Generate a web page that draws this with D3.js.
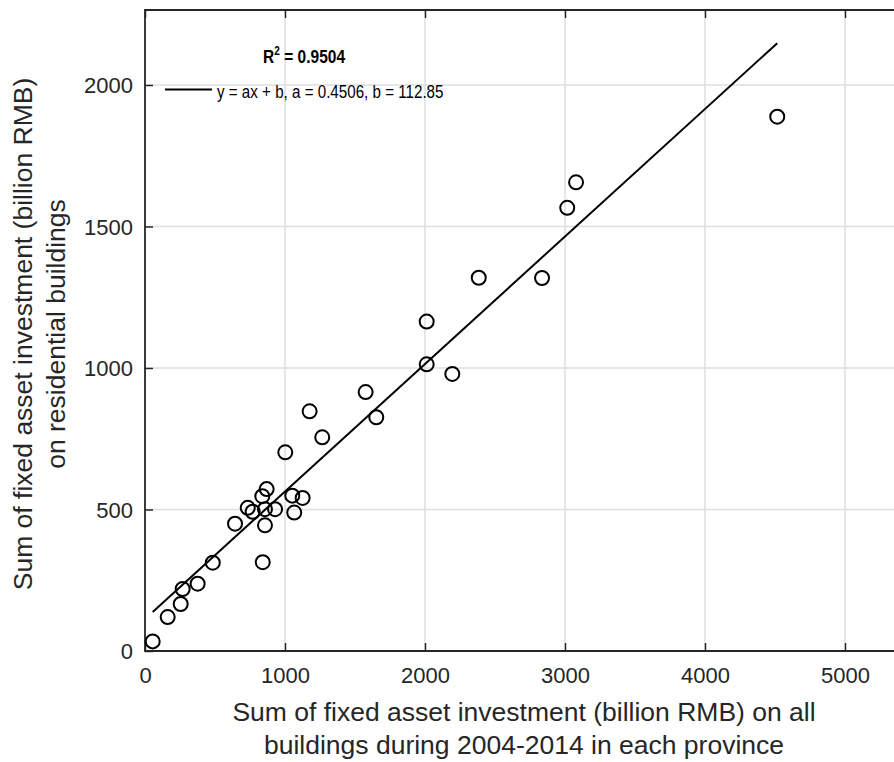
<!DOCTYPE html>
<html>
<head>
<meta charset="utf-8">
<script src="https://cdn.jsdelivr.net/npm/d3@7"></script>
<style>
  html, body { margin: 0; padding: 0; background: #fff; overflow: hidden; }
  svg { display: block; font-family: "Liberation Sans", Arial, Helvetica, sans-serif; }
</style>
</head>
<body>
<svg id="chart" width="894" height="762"></svg>
<script>
// Province totals (billion RMB), 2004-2014
const allBuildings = [55, 162, 255, 269, 376, 484, 841, 643, 734, 769, 838, 869, 857, 929, 857,
  1052, 1126, 1066, 1002, 1266, 1176, 1576, 1652, 2012, 2012, 2195, 2384, 2836, 3016, 3079, 4516];
const residential = [34, 120, 166, 219, 238, 312, 314, 450, 506, 492, 547, 572, 501, 501, 444,
  549, 541, 489, 702, 755, 847, 915, 826, 1164, 1013, 979, 1319, 1318, 1566, 1656, 1888];

// Linear fit reported on the chart
const fitA = 0.4506;
const fitB = 112.85;
const rSquared = "0.9504";

const xTicks = [0, 1000, 2000, 3000, 4000, 5000];
const yTicks = [0, 500, 1000, 1500, 2000];
const xDomain = [0, 5500];
const yDomain = [0, 2265];

const svg = d3.select("#chart");
const m = { left: 145, top: 10, bottom: 651 };
const x = d3.scaleLinear().domain(xDomain).range([m.left, m.left + 0.14 * xDomain[1]]);
const y = d3.scaleLinear().domain(yDomain).range([m.bottom, m.top]);

const axisColor = "#262626";
const gridColor = "#dedede";

// grid
svg.append("g").selectAll("line").data(xTicks.slice(1)).join("line")
  .attr("x1", d => x(d)).attr("x2", d => x(d))
  .attr("y1", y.range()[0]).attr("y2", y.range()[1])
  .attr("stroke", gridColor).attr("stroke-width", 1.5);
svg.append("g").selectAll("line").data(yTicks.slice(1)).join("line")
  .attr("x1", x.range()[0]).attr("x2", x.range()[1])
  .attr("y1", d => y(d)).attr("y2", d => y(d))
  .attr("stroke", gridColor).attr("stroke-width", 1.5);

// box edges: left, top and bottom (the right edge lies outside the figure)
const [x0, x1] = x.range();
svg.append("path")
  .attr("d", `M${x1},${m.top}H${x0}V${m.bottom}H${x1}`)
  .attr("fill", "none").attr("stroke", axisColor).attr("stroke-width", 1.8);

// inward ticks
const tickLen = 8;
const fmt = d3.format("d");
const xAxisBottom = d3.axisBottom(x).tickValues(xTicks).tickFormat(fmt).tickSizeInner(-tickLen).tickSizeOuter(0);
const xAxisTop = d3.axisTop(x).tickValues(xTicks).tickSizeInner(-tickLen).tickSizeOuter(0).tickFormat("");
const yAxisLeft = d3.axisLeft(y).tickValues(yTicks).tickFormat(fmt).tickSizeInner(-tickLen).tickSizeOuter(0);

function styleAxis(g) {
  g.select(".domain").remove();
  g.selectAll(".tick line").attr("stroke", axisColor).attr("stroke-width", 1.5);
  g.selectAll(".tick text").attr("fill", axisColor).attr("font-size", 22)
    .attr("font-family", "Liberation Sans, Arial, sans-serif");
}

const gxb = svg.append("g").attr("transform", `translate(0,${m.bottom})`).call(xAxisBottom).call(styleAxis);
gxb.selectAll(".tick text").attr("dy", null).attr("y", 32);
svg.append("g").attr("transform", `translate(0,${m.top})`).call(xAxisTop).call(styleAxis);
const gyl = svg.append("g").attr("transform", `translate(${m.left},0)`).call(yAxisLeft).call(styleAxis);
gyl.selectAll(".tick text").attr("dy", "0.36em").attr("x", -12);

// regression line over the data range
const xr = d3.extent(allBuildings);
const fitLine = d3.line().x(d => x(d)).y(d => y(fitA * d + fitB));
svg.append("path").datum(xr).attr("d", fitLine)
  .attr("fill", "none").attr("stroke", "#000").attr("stroke-width", 2);

// province points
svg.append("g").selectAll("circle").data(d3.zip(allBuildings, residential)).join("circle")
  .attr("cx", d => x(d[0])).attr("cy", d => y(d[1])).attr("r", 7)
  .attr("fill", "none").attr("stroke", "#000").attr("stroke-width", 2);

// legend
svg.append("line").attr("x1", 165).attr("x2", 212).attr("y1", 89.5).attr("y2", 89.5)
  .attr("stroke", "#000").attr("stroke-width", 2);
svg.append("g").attr("transform", "translate(217,98) scale(0.82,1)")
  .append("text").attr("x", 0).attr("y", 0).attr("font-size", 18.5).attr("fill", "#000")
  .text(`y = ax + b, a = ${fitA}, b = ${fitB}`);

const r2 = svg.append("g").attr("transform", "translate(263,63) scale(0.84,1)")
  .append("text").attr("x", 0).attr("y", 0).attr("font-size", 18.5)
  .attr("font-weight", "bold").attr("fill", "#000");
r2.append("tspan").text("R");
r2.append("tspan").attr("font-size", 12).attr("dy", -8).text("2");
r2.append("tspan").attr("dy", 8).text(` = ${rSquared}`);

// axis titles
const xt = svg.append("text").attr("text-anchor", "middle").attr("fill", axisColor).attr("font-size", 26.5);
xt.append("tspan").attr("x", 524).attr("y", 721).text("Sum of fixed asset investment (billion RMB) on all");
xt.append("tspan").attr("x", 524).attr("y", 754).text("buildings during 2004-2014 in each province");

const yt = svg.append("text").attr("text-anchor", "middle").attr("fill", axisColor).attr("font-size", 26.5)
  .attr("transform", "translate(0,334) rotate(-90)");
yt.append("tspan").attr("x", 0).attr("y", 31.5).text("Sum of fixed asset investment (billion RMB)");
yt.append("tspan").attr("x", 0).attr("y", 64.5).text("on residential buildings");
</script>
</body>
</html>
